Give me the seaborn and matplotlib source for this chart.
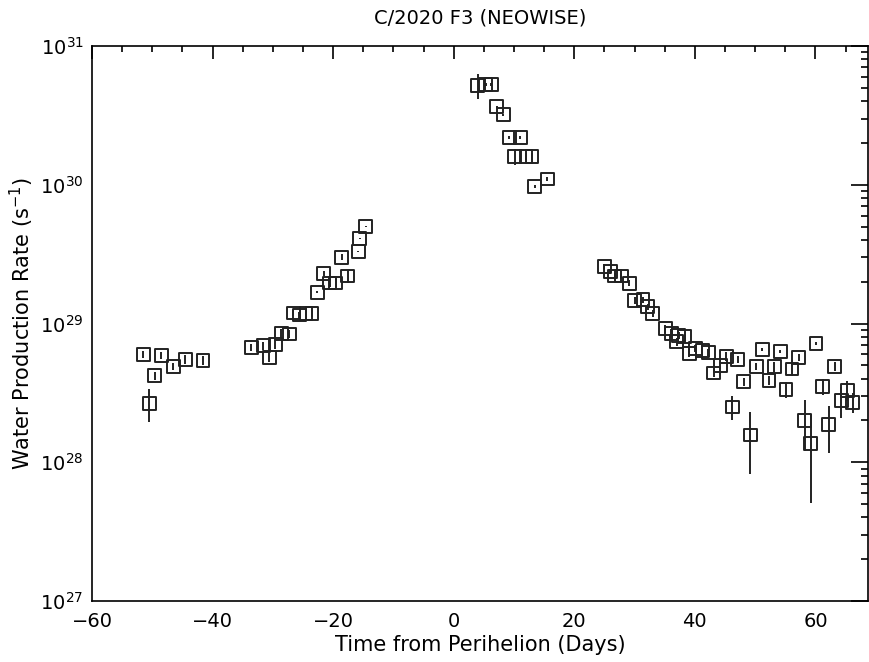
import numpy as np
import pandas as pd
import matplotlib
matplotlib.use("Agg")
import matplotlib.pyplot as plt
import seaborn as sns
from matplotlib.ticker import MultipleLocator, LogLocator, NullFormatter

# days from perihelion and water production rate
# far pre-perihelion (Q in 1e28 s^-1)
t_early = [-51.5, -50.5, -49.6, -48.5, -46.5, -44.5, -41.6]
q_early = [6.0, 2.65, 4.2, 5.9, 4.9, 5.5, 5.4]
e_early = [0.35, 0.7, 0.3, 0.35, 0.3, 0.4, 0.4]

# rising branch (Q in 1e29 s^-1)
t_rise = [-33.6, -31.6, -30.6, -29.6, -28.6, -27.3, -26.6, -25.6, -24.5, -23.5,
          -22.6, -21.6, -20.6, -19.6, -18.6, -17.6, -15.8, -15.6, -14.6]
q_rise = [0.67, 0.69, 0.57, 0.71, 0.85, 0.84, 1.19, 1.15, 1.18, 1.18,
          1.68, 2.3, 1.96, 1.96, 3.0, 2.2, 3.3, 4.1, 5.0]
e_rise = [0.04, 0.05, 0.04, 0.05, 0.06, 0.06, 0.06, 0.07, 0.07, 0.07,
          0.03, 0.1, 0.12, 0.12, 0.15, 0.25, 0.05, 0.05, 0.05]

# just after perihelion (Q in 1e30 s^-1)
t_peak = [4.0, 5.3, 6.2, 7.1, 8.2, 9.2, 10.1, 11.05, 12.0, 13.0, 13.4, 15.5]
q_peak = [5.2, 5.3, 5.3, 3.65, 3.2, 2.2, 1.6, 2.2, 1.6, 1.6, 0.97, 1.1]
e_peak = [1.05, 0.15, 0.15, 0.05, 0.05, 0.05, 0.22, 0.05, 0.08, 0.1, 0.03, 0.03]

# outbound branch (Q in 1e28 s^-1)
t_late = [25.0, 26.0, 26.7, 27.8, 29.1, 30.0, 31.4, 32.2, 33.0, 35.1,
          36.1, 37.0, 37.3, 38.3, 39.1, 40.1, 41.2, 42.2, 43.1, 44.2,
          45.2, 46.2, 47.1, 48.1, 49.2, 50.2, 51.2, 52.3, 53.2, 54.2,
          55.1, 56.1, 57.2, 58.2, 59.2, 60.1, 61.2, 62.2, 63.2, 64.3,
          65.3, 66.2]
q_late = [25.7, 23.6, 22.0, 22.0, 19.5, 14.7, 14.8, 13.2, 11.8, 9.2,
          8.5, 7.4, 8.2, 8.1, 6.1, 6.6, 6.4, 6.2, 4.4, 5.0,
          5.8, 2.5, 5.5, 3.8, 1.57, 4.9, 6.5, 3.9, 4.9, 6.3,
          3.35, 4.7, 5.7, 2.0, 1.36, 7.2, 3.5, 1.86, 4.9, 2.8,
          3.3, 2.7]
e_late = [1.0, 1.0, 1.0, 1.0, 1.0, 0.8, 0.8, 0.7, 0.7, 0.6,
          0.6, 0.5, 0.5, 0.6, 0.4, 0.4, 0.4, 0.4, 0.3, 0.3,
          0.4, 0.48, 0.3, 0.25, 0.75, 0.3, 0.15, 0.3, 0.4, 0.15,
          0.45, 0.55, 0.3, 0.8, 0.85, 0.2, 0.45, 0.7, 0.35, 0.7,
          0.55, 0.45]

df = pd.concat([
    pd.DataFrame({"t": t_early, "q": np.array(q_early) * 1e28, "err": np.array(e_early) * 1e28}),
    pd.DataFrame({"t": t_rise, "q": np.array(q_rise) * 1e29, "err": np.array(e_rise) * 1e29}),
    pd.DataFrame({"t": t_peak, "q": np.array(q_peak) * 1e30, "err": np.array(e_peak) * 1e30}),
    pd.DataFrame({"t": t_late, "q": np.array(q_late) * 1e28, "err": np.array(e_late) * 1e28}),
], ignore_index=True)

sns.set_theme(style="white")
plt.rcParams.update({
    "font.family": ["DejaVu Sans"],
    "axes.edgecolor": "black",
    "axes.linewidth": 1.2,
    "xtick.color": "black",
    "ytick.color": "black",
    "text.color": "black",
    "axes.labelcolor": "black",
})

fig = plt.figure(figsize=(8.7, 6.62), dpi=100)
ax = fig.add_axes([92 / 870, 1 - 601 / 662, (868.5 - 92) / 870, (601 - 46) / 662])
ax.set_yscale("log")

ax.errorbar(df["t"], df["q"], yerr=df["err"], fmt="none", ecolor="#222222",
            elinewidth=1.4, capsize=0, zorder=2)
sns.scatterplot(data=df, x="t", y="q", marker="s", s=85, facecolor="none",
                edgecolor="#222222", linewidth=1.4, ax=ax, zorder=3)

ax.set_xlim(-60, 68.8)
ax.set_ylim(1e27, 1e31)
ax.xaxis.set_major_locator(MultipleLocator(20))
ax.xaxis.set_minor_locator(MultipleLocator(5))
ax.yaxis.set_major_locator(LogLocator(base=10, numticks=10))
ax.yaxis.set_minor_locator(LogLocator(base=10, subs=np.arange(2, 10), numticks=20))
ax.yaxis.set_minor_formatter(NullFormatter())

ax.tick_params(which="both", direction="in", top=True, right=True, width=1.2,
               labelsize=14, colors="black")
ax.tick_params(axis="x", which="major", length=9, pad=8)
ax.tick_params(axis="x", which="minor", length=4.5)
ax.tick_params(axis="y", which="major", length=12, pad=6)
ax.tick_params(axis="y", which="minor", length=5)

ax.set_title("C/2020 F3 (NEOWISE)", fontsize=14, pad=16)
ax.set_xlabel("Time from Perihelion (Days)", fontsize=15, labelpad=3)
ax.set_ylabel("Water Production Rate (s$^{-1}$)", fontsize=15, labelpad=3)

fig.savefig("out.png", dpi=100)
